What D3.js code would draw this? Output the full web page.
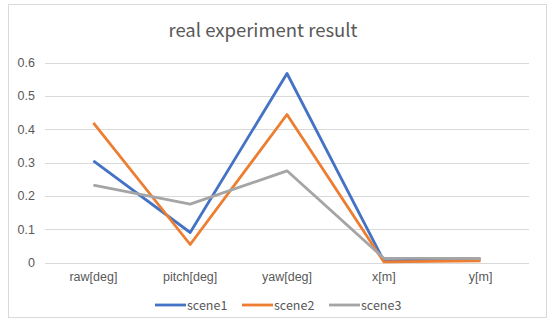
<!DOCTYPE html>
<html>
<head>
<meta charset="utf-8">
<script src="https://unpkg.com/d3@7/dist/d3.min.js"></script>
<style>
  body { margin: 0; background: #fff; }
  svg { display: block; font-family: "Noto Sans CJK SC", "Noto Sans", sans-serif; }
</style>
</head>
<body>
<script>
// data
const categories = ["raw[deg]", "pitch[deg]", "yaw[deg]", "x[m]", "y[m]"];
const seriesNames = ["scene1", "scene2", "scene3"];
const scene1 = [0.305, 0.09, 0.567, 0.005, 0.01];
const scene2 = [0.419, 0.054, 0.444, 0.002, 0.005];
const scene3 = [0.232, 0.175, 0.275, 0.013, 0.012];
const yTicks = [0, 0.1, 0.2, 0.3, 0.4, 0.5, 0.6];
const colors = ["#4472C4", "#ED7D31", "#A5A5A5"];

const w = 550, h = 334;
const plotLeft = 45, plotRight = 529, plotTop = 62.5, plotBottom = 262.5;

const svg = d3.select("body").append("svg").attr("width", w).attr("height", h);

// chart frame
svg.append("rect")
  .attr("x", 8.5).attr("y", 4.5)
  .attr("width", 538).attr("height", 313)
  .attr("fill", "#fff").attr("stroke", "#d9d9d9");

svg.append("text")
  .attr("x", 263).attr("y", 37)
  .attr("text-anchor", "middle")
  .attr("font-size", 18.5)
  .attr("fill", "#595959")
  .text("real experiment result");

// scales
const x = d3.scaleBand().domain(categories).range([plotLeft, plotRight]);
const y = d3.scaleLinear().domain([0, 0.6]).range([plotBottom, plotTop]);

// grid
svg.append("g")
  .selectAll("line")
  .data(yTicks)
  .join("line")
  .attr("x1", plotLeft).attr("x2", plotRight)
  .attr("y1", d => Math.round(y(d)) + 0.5)
  .attr("y2", d => Math.round(y(d)) + 0.5)
  .attr("stroke", "#d9d9d9");

// y axis labels
const yAxis = d3.axisLeft(y).tickValues(yTicks).tickSize(0).tickPadding(10)
  .tickFormat(d => d === 0 ? "0" : d3.format(".1f")(d));
svg.append("g")
  .attr("transform", `translate(${plotLeft},0)`)
  .call(yAxis)
  .call(g => g.select(".domain").remove())
  .call(g => g.selectAll("text").attr("fill", "#595959").attr("font-size", 12.5)
    .attr("font-family", "inherit"));

// x axis labels
const xAxis = d3.axisBottom(x).tickSize(0).tickPadding(10);
svg.append("g")
  .attr("transform", `translate(0,${plotBottom})`)
  .call(xAxis)
  .call(g => g.select(".domain").remove())
  .call(g => g.selectAll("text").attr("fill", "#595959").attr("font-size", 12.5)
    .attr("font-family", "inherit"));

// lines
const line = d3.line()
  .x((d, i) => x(categories[i]) + x.bandwidth() / 2)
  .y(d => y(d));

[scene1, scene2, scene3].forEach((s, i) => {
  svg.append("path")
    .datum(s)
    .attr("d", line)
    .attr("fill", "none")
    .attr("stroke", colors[i])
    .attr("stroke-width", 2.8)
    .attr("stroke-linejoin", "round");
});

// legend
const legendX = [155, 242, 329];
const legend = svg.append("g");
seriesNames.forEach((name, i) => {
  legend.append("line")
    .attr("x1", legendX[i]).attr("x2", legendX[i] + 31)
    .attr("y1", 305).attr("y2", 305)
    .attr("stroke", colors[i]).attr("stroke-width", 2.8);
  legend.append("text")
    .attr("x", legendX[i] + 32).attr("y", 309.5)
    .attr("font-size", 12.5)
    .attr("fill", "#595959")
    .text(name);
});
</script>
</body>
</html>
